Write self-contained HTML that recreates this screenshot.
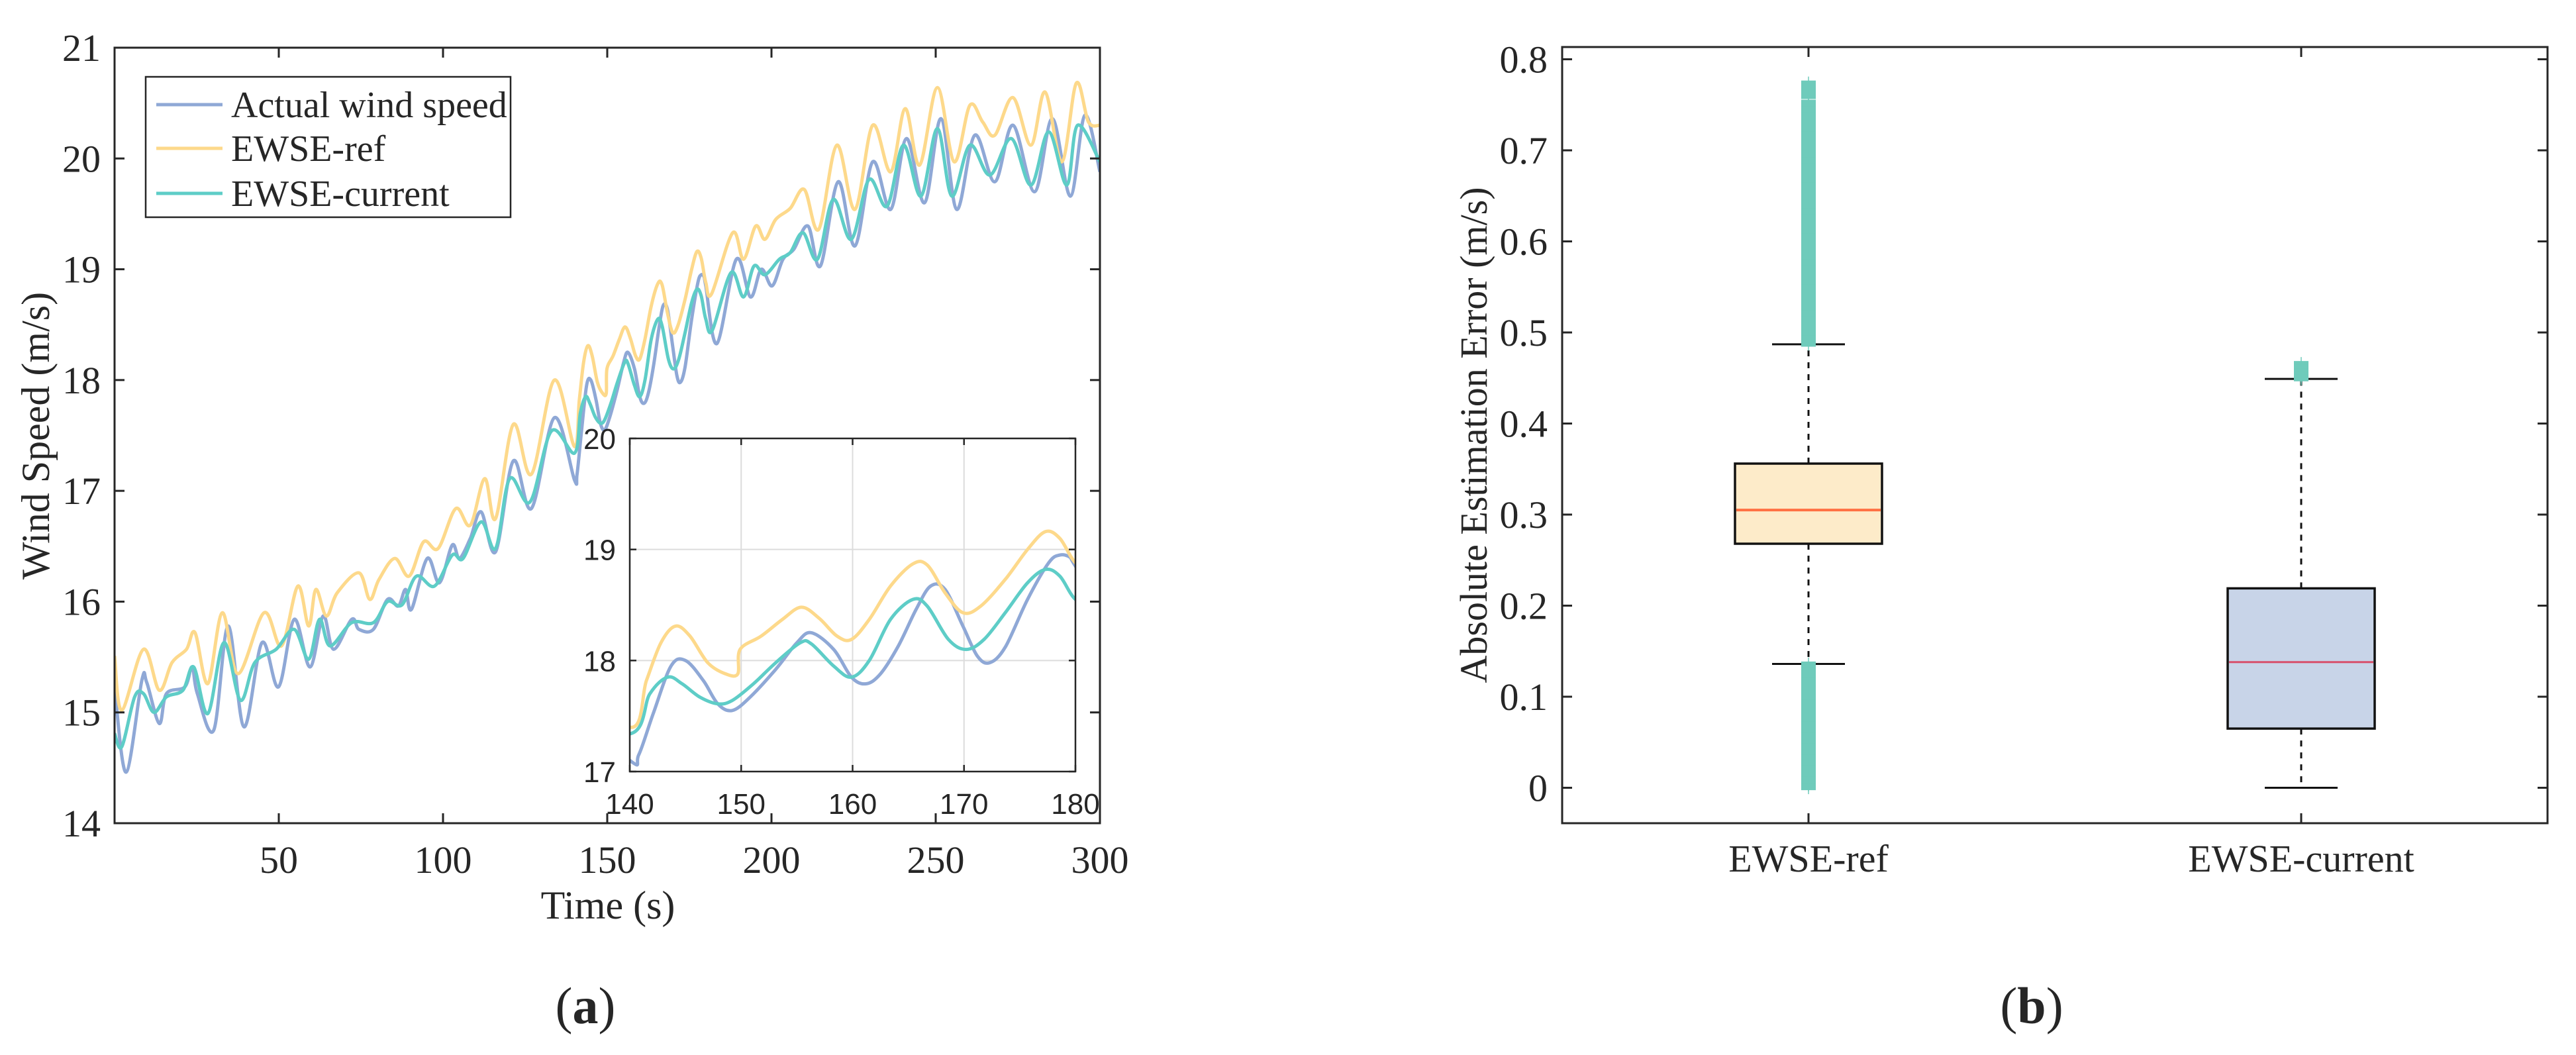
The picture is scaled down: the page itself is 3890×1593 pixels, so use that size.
<!DOCTYPE html>
<html><head><meta charset="utf-8">
<style>
html,body{margin:0;padding:0;background:#fff;}
svg{display:block;}
text{font-family:"Liberation Serif",serif;fill:#262626;}
.sans{font-family:"Liberation Sans",sans-serif;}
</style></head>
<body>
<svg id="fig" width="3890" height="1593" viewBox="0 0 3890 1593" xmlns="http://www.w3.org/2000/svg">
<defs>
<clipPath id="clipMain"><rect x="173" y="72" width="1488" height="1171"/></clipPath>
<clipPath id="clipInset"><rect x="951" y="662" width="673" height="503"/></clipPath>
</defs>
<g id="panelA"></g>
<g id="panelB"></g>
</svg>
<script>
// ---------- Panel (a) data ----------
const actualT = [0,3.5,8.3,9.8,13.6,15.8,21.4,23.6,25.2,30.2,34.6,39.4,44.9,49.9,54.7,59.5,63.5,66.7,72.2,74.4,78.8,83.1,86.4,88.6,90.4,95.2,98.9,102.8,105,108.3,111.6,116,121.4,126.9,133.9,
 140,140.8,142.1,143.7,145,146.6,147.9,149.2,150.8,153.1,155,156.3,158.3,159.9,161.2,162.5,164.1,165.7,167,168.3,169.9,171.2,172.3,173.7,175.7,177.6,178.6,179.5,180,
 183.4,189.3,193.6,196.9,200.2,203.5,206.8,211.1,214.9,220.3,225.4,230.8,236.3,241.1,246.6,251.6,256.4,261.9,268,273.5,280.1,285.5,291,295.4,300];
const actualV = [15.23,14.46,15.29,15.27,14.9,15.17,15.23,15.41,15.17,14.84,15.78,14.87,15.63,15.23,15.84,15.41,15.87,15.57,15.84,15.75,15.75,16.02,15.96,16.11,15.93,16.39,16.17,16.51,16.39,16.57,16.81,16.45,17.27,16.84,17.66,
 17.1,17.15,17.52,17.95,18.0,17.82,17.61,17.55,17.67,17.92,18.16,18.25,18.1,17.85,17.79,17.88,18.13,18.46,18.67,18.64,18.31,18.04,17.98,18.12,18.55,18.88,18.95,18.93,18.85,
 18.33,19.09,18.75,19.0,18.85,19.09,19.18,19.39,19.03,19.79,19.21,19.97,19.54,20.18,19.6,20.36,19.54,20.21,19.79,20.3,19.7,20.36,19.66,20.39,19.88];

const refT = [0,2.2,8.8,13.6,17.5,21.9,24.5,28.4,32.8,37.6,45.5,50.8,55.8,59.1,61.3,64.5,67.8,74.4,77.7,80.5,85.3,89.7,94.1,98.5,103.9,108.3,112.7,116,121.4,126.9,133.9,
 140,141.5,142.8,144.1,145.4,147,148.6,149.7,149.9,151.8,153.7,155.4,157,158.6,159.9,161.5,163.4,165.4,166.7,168.3,169.9,171.5,173.7,175.7,177.3,178.6,180,
 181.8,188.2,191.5,195.2,198,201.3,205.7,210,214.4,219.9,225.4,230.8,236.3,240.7,245.1,250.5,255.6,260.4,264.3,268,273.5,279,283.3,288.4,292.8,296.5,300];
const refV = [15.51,15.02,15.57,15.2,15.45,15.57,15.72,15.26,15.9,15.35,15.9,15.6,16.14,15.78,16.11,15.87,16.08,16.26,16.02,16.2,16.39,16.23,16.54,16.48,16.84,16.69,17.11,16.75,17.6,17.15,18.0,
 17.4,17.82,18.16,18.31,18.22,17.98,17.88,17.88,18.1,18.22,18.37,18.48,18.38,18.22,18.19,18.37,18.67,18.87,18.86,18.61,18.43,18.49,18.73,19.0,19.16,19.1,18.88,
 18.78,19.33,19.09,19.39,19.27,19.45,19.55,19.72,19.36,20.12,19.54,20.3,19.88,20.45,19.94,20.64,19.97,20.48,20.33,20.21,20.55,20.12,20.6,19.97,20.68,20.33,20.3];

const curT = [0,2.2,6.1,8.8,12,15.8,20.8,24.1,28.4,33.3,38.3,42.7,49.2,54.7,59.1,62.4,65.6,72.2,78.8,83.1,87.5,91.9,97.4,102.8,106.1,111.6,116,120.3,126.5,133,
 140,141.8,143.4,144.7,146.3,147.9,149.2,151.1,153.1,155.3,156.3,158.3,159.9,161.5,163.4,165.4,166.7,168.6,170.2,171.8,173.7,175.7,177.3,178.6,180,
 182,187.7,191.5,194.7,198,202.4,205.7,209.6,214,218.8,224.3,229.7,235.2,240.2,245.5,250.5,254.9,260.4,266.5,273,279,284.4,289.9,293.2,300];
const curV = [14.81,14.69,15.14,15.17,15.0,15.14,15.2,15.41,14.99,15.63,15.11,15.45,15.57,15.75,15.48,15.84,15.6,15.81,15.81,16.0,15.97,16.23,16.14,16.42,16.39,16.72,16.48,17.11,16.9,17.54,
 17.34,17.7,17.85,17.79,17.67,17.61,17.64,17.79,17.98,18.16,18.15,17.95,17.85,18.0,18.37,18.55,18.49,18.19,18.1,18.19,18.43,18.7,18.82,18.76,18.55,
 18.45,18.97,18.75,19.03,18.95,19.09,19.15,19.33,19.09,19.63,19.27,19.81,19.57,20.12,19.66,20.27,19.66,20.12,19.85,20.18,19.76,20.24,19.76,20.3,19.97];

const mainXTicks = [50,100,150,200,250,300];
const mainYTicks = [14,15,16,17,18,19,20,21];
const insetXTicks = [140,150,160,170,180];
const insetYTicks = [17,18,19,20];
const seriesNames = ["Actual wind speed","EWSE-ref","EWSE-current"];

// ---------- Panel (b) data ----------
const boxCategories = ["EWSE-ref","EWSE-current"];
const boxQ1 = [0.268,0.065];
const boxQ3 = [0.356,0.219];
const boxMedian = [0.305,0.138];
const whiskerLow = [0.136,0.0];
const whiskerHigh = [0.487,0.449];
const outliersRef = [0.773,0.766,0.760,0.752,0.745,0.738,0.731,0.724,0.717,0.710,0.703,0.696,0.689,0.682,0.675,0.668,0.661,0.654,0.647,0.640,0.633,0.626,0.619,0.612,0.605,0.598,0.591,0.584,0.577,0.570,0.563,0.556,0.549,0.542,0.535,0.528,0.521,0.514,0.507,0.500,0.493,0.488,
 0.135,0.129,0.123,0.117,0.111,0.105,0.099,0.093,0.087,0.081,0.075,0.069,0.063,0.057,0.051,0.045,0.039,0.033,0.027,0.021,0.015,0.009,0.004,0.001];
const outliersCur = [0.465,0.461,0.457,0.453,0.450];
const boxYTicks = [0,0.1,0.2,0.3,0.4,0.5,0.6,0.7,0.8];

const NS = "http://www.w3.org/2000/svg";
function mk(tag, attrs, parent){ const e=document.createElementNS(NS,tag); for(const k in attrs) e.setAttribute(k,attrs[k]); parent.appendChild(e); return e; }
function smoothPath(pts){
  let d = "M"+pts[0][0].toFixed(1)+","+pts[0][1].toFixed(1);
  for(let i=0;i<pts.length-1;i++){
    const p0=pts[Math.max(0,i-1)], p1=pts[i], p2=pts[i+1], p3=pts[Math.min(pts.length-1,i+2)];
    const c1x=p1[0]+(p2[0]-p0[0])/6, c1y=p1[1]+(p2[1]-p0[1])/6;
    const c2x=p2[0]-(p3[0]-p1[0])/6, c2y=p2[1]-(p3[1]-p1[1])/6;
    d += "C"+c1x.toFixed(1)+","+c1y.toFixed(1)+" "+c2x.toFixed(1)+","+c2y.toFixed(1)+" "+p2[0].toFixed(1)+","+p2[1].toFixed(1);
  }
  return d;
}
const colors = ["#8fa8d6","#fdd98b","#5ecdc7"];
const allT = [actualT, refT, curT], allV = [actualV, refV, curV];
const keys = ["actual","ref","current"];

// ---------- Panel (a) ----------
const A = document.getElementById("panelA");
const mx0=173, mx1=1661, my0=1243, my1=72;
const xMain = t => mx0 + (t-0)/(300-0)*(mx1-mx0);
const yMain = v => my0 - (v-14)/(21-14)*(my0-my1);

const mainLines = mk("g",{"clip-path":"url(#clipMain)"},A);
for(let s=0;s<3;s++){
  const pts = allT[s].map((t,i)=>[xMain(t), yMain(allV[s][i])]);
  const p = mk("path",{d:smoothPath(pts),fill:"none",stroke:colors[s],"stroke-width":5,"stroke-linejoin":"round"},mainLines);
  
  
}
const mbox = mk("rect",{x:mx0,y:my1,width:mx1-mx0,height:my0-my1,fill:"none",stroke:"#262626","stroke-width":3},A);


mainXTicks.forEach(t=>{
  const x=xMain(t);
  mk("line",{x1:x,y1:my0,x2:x,y2:my0-15,stroke:"#262626","stroke-width":3},A);
  mk("line",{x1:x,y1:my1,x2:x,y2:my1+15,stroke:"#262626","stroke-width":3},A);
  const tx = mk("text",{x:x,y:my0+75,"font-size":58,"text-anchor":"middle"},A);
  tx.textContent = t;
  
  
});
mainYTicks.forEach(v=>{
  const y=yMain(v);
  mk("line",{x1:mx0,y1:y,x2:mx0+15,y2:y,stroke:"#262626","stroke-width":3},A);
  mk("line",{x1:mx1,y1:y,x2:mx1-15,y2:y,stroke:"#262626","stroke-width":3},A);
  const tx = mk("text",{x:152,y:y+20,"font-size":58,"text-anchor":"end"},A);
  tx.textContent = v;
  
  
});
const xt = mk("text",{x:918,y:1387,"font-size":60,"text-anchor":"middle"},A);
xt.textContent = "Time (s)";


const yt = mk("text",{x:0,y:0,"font-size":60,"text-anchor":"middle",transform:"translate(74,658) rotate(-90)"},A);
yt.textContent = "Wind Speed (m/s)";



const lg = mk("g",{},A);


mk("rect",{x:220,y:116,width:551,height:212,fill:"#fff",stroke:"#262626","stroke-width":2.5},lg);
const legY=[158,224,292];
for(let s=0;s<3;s++){
  const ent = mk("g",{},lg);
  
  
  mk("line",{x1:236,y1:legY[s],x2:336,y2:legY[s],stroke:colors[s],"stroke-width":5},ent);
  const t = mk("text",{x:349,y:legY[s]+19,"font-size":56},ent);
  t.textContent = seriesNames[s];
}

const ix0=951, ix1=1624, iy0=1165, iy1=662;
const xIn = t => ix0 + (t-140)/(180-140)*(ix1-ix0);
const yIn = v => iy0 - (v-17)/(20-17)*(iy0-iy1);
const inset = mk("g",{},A);


mk("rect",{x:ix0,y:iy1,width:ix1-ix0,height:iy0-iy1,fill:"#fff"},inset);
insetXTicks.slice(1,-1).forEach(t=>mk("line",{x1:xIn(t),y1:iy0,x2:xIn(t),y2:iy1,stroke:"#dcdcdc","stroke-width":2},inset));
insetYTicks.slice(1,-1).forEach(v=>mk("line",{x1:ix0,y1:yIn(v),x2:ix1,y2:yIn(v),stroke:"#dcdcdc","stroke-width":2},inset));
const insetLines = mk("g",{"clip-path":"url(#clipInset)"},inset);
for(let s=0;s<3;s++){
  const pts=[];
  allT[s].forEach((t,i)=>{ if(t>=133 && t<=190) pts.push([xIn(t), yIn(allV[s][i])]); });
  const p = mk("path",{d:smoothPath(pts),fill:"none",stroke:colors[s],"stroke-width":5,"stroke-linejoin":"round"},insetLines);
  
  
}
mk("rect",{x:ix0,y:iy1,width:ix1-ix0,height:iy0-iy1,fill:"none",stroke:"#262626","stroke-width":2.5},inset);
insetXTicks.forEach(t=>{
  const x=xIn(t);
  mk("line",{x1:x,y1:iy0,x2:x,y2:iy0-10,stroke:"#262626","stroke-width":2.5},inset);
  mk("line",{x1:x,y1:iy1,x2:x,y2:iy1+10,stroke:"#262626","stroke-width":2.5},inset);
  const tx = mk("text",{x:x,y:1229,"font-size":44,"text-anchor":"middle","class":"sans"},inset);
  tx.textContent = t;
  
  
});
insetYTicks.forEach(v=>{
  const y=yIn(v);
  mk("line",{x1:ix0,y1:y,x2:ix0+10,y2:y,stroke:"#262626","stroke-width":2.5},inset);
  mk("line",{x1:ix1,y1:y,x2:ix1-10,y2:y,stroke:"#262626","stroke-width":2.5},inset);
  const tx = mk("text",{x:930,y:y+16,"font-size":44,"text-anchor":"end","class":"sans"},inset);
  tx.textContent = v;
  
  
});
const capA = mk("text",{x:884,y:1545,"font-size":78,"text-anchor":"middle"},A);
capA.innerHTML = '(<tspan font-weight="bold">a</tspan>)';



// ---------- Panel (b) ----------
const B = document.getElementById("panelB");
const bx0=2359, bx1=3847, by0=1243, by1=71;
const xCat = i => bx0 + (i+1-0.5)/2*(bx1-bx0);
const yB = v => 1189.5 - v*1375;
const boxFill = ["#fdebc9","#c8d4e8"];
const medColor = ["#ff7043","#d84f6b"];
const halfW = 111, capHW = 55;
for(let i=0;i<2;i++){
  const cx=xCat(i);
  const g = mk("g",{},B);
  
  
  mk("line",{x1:cx,y1:yB(boxQ3[i]),x2:cx,y2:yB(whiskerHigh[i]),stroke:"#111","stroke-width":3,"stroke-dasharray":"9,9"},g);
  mk("line",{x1:cx,y1:yB(boxQ1[i]),x2:cx,y2:yB(whiskerLow[i]),stroke:"#111","stroke-width":3,"stroke-dasharray":"9,9"},g);
  mk("line",{x1:cx-capHW,y1:yB(whiskerHigh[i]),x2:cx+capHW,y2:yB(whiskerHigh[i]),stroke:"#111","stroke-width":3},g);
  mk("line",{x1:cx-capHW,y1:yB(whiskerLow[i]),x2:cx+capHW,y2:yB(whiskerLow[i]),stroke:"#111","stroke-width":3},g);
  mk("rect",{x:cx-halfW,y:yB(boxQ3[i]),width:2*halfW,height:yB(boxQ1[i])-yB(boxQ3[i]),fill:boxFill[i],stroke:"#111","stroke-width":3.5},g);
  mk("line",{x1:cx-halfW+2,y1:yB(boxMedian[i]),x2:cx+halfW-2,y2:yB(boxMedian[i]),stroke:medColor[i],"stroke-width":i===0?4:3},g);
  const outs = i===0?outliersRef:outliersCur;
  const og = mk("g",{},g);
  
  
  outs.forEach(v=>{
    mk("rect",{x:cx-11,y:yB(v)-5,width:22,height:10,fill:"#6fcbbb"},og);
    mk("line",{x1:cx,y1:yB(v)-11,x2:cx,y2:yB(v)+11,stroke:"#6fcbbb","stroke-width":1.5},og);
  });
}
mk("rect",{x:bx0,y:by1,width:bx1-bx0,height:by0-by1,fill:"none",stroke:"#262626","stroke-width":3},B);
boxCategories.forEach((c,i)=>{
  const x=xCat(i);
  mk("line",{x1:x,y1:by0,x2:x,y2:by0-15,stroke:"#262626","stroke-width":3},B);
  mk("line",{x1:x,y1:by1,x2:x,y2:by1+15,stroke:"#262626","stroke-width":3},B);
  const tx = mk("text",{x:x,y:1316,"font-size":58,"text-anchor":"middle"},B);
  tx.textContent = c;
  
  
});
boxYTicks.forEach(v=>{
  const y=yB(v);
  mk("line",{x1:bx0,y1:y,x2:bx0+15,y2:y,stroke:"#262626","stroke-width":3},B);
  mk("line",{x1:bx1,y1:y,x2:bx1-15,y2:y,stroke:"#262626","stroke-width":3},B);
  const tx = mk("text",{x:2337,y:y+20,"font-size":58,"text-anchor":"end"},B);
  tx.textContent = v===0?"0":v.toFixed(1);
  
  
});
const byt = mk("text",{x:0,y:0,"font-size":58,"text-anchor":"middle",transform:"translate(2245,657) rotate(-90)"},B);
byt.textContent = "Absolute Estimation Error (m/s)";


const capB = mk("text",{x:3068,y:1545,"font-size":78,"text-anchor":"middle"},B);
capB.innerHTML = '(<tspan font-weight="bold">b</tspan>)';


</script>
</body></html>
